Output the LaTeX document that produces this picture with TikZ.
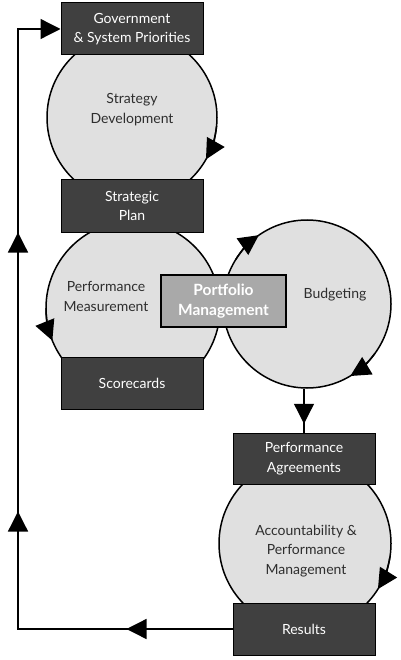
\documentclass[tikz,border=0pt]{standalone}
\usepackage{fontspec}
\setmainfont{Lato}
\usetikzlibrary{arrows.meta,decorations.markings}
\definecolor{boxgray}{HTML}{404040}
\definecolor{circgray}{HTML}{E0E0E0}
\definecolor{portgray}{HTML}{A9A9A9}
\definecolor{txtgray}{HTML}{2E2E2E}
\newcommand\mydiagfont{\fontsize{14}{19.5}\selectfont}
\newcommand\myportfont{\fontsize{15.5}{19.5}\selectfont\bfseries}
\tikzset{mytri/.tip={Triangle[length=20pt,width=20pt]}}
\begin{document}
\begin{tikzpicture}[x=1pt,y=1pt,
  darkbox/.style={draw=black,line width=1pt,fill=boxgray,text=white,minimum width=142pt,minimum height=52pt,inner sep=0pt,align=center,font=\mydiagfont},
  portbox/.style={draw=black,line width=1.3pt,fill=portgray,text=white,minimum width=125pt,minimum height=52pt,inner sep=0pt,align=center,font=\myportfont},
  circ/.style={circle,draw=black,line width=1.5pt,fill=circgray,inner sep=0pt,minimum size=#1},
  ctext/.style={text=txtgray,align=center,font=\mydiagfont,inner sep=0pt},
  circarrow/.style={line width=1.5pt,-mytri},
  conn/.style={line width=1.3pt}
]
\useasboundingbox (0,0) rectangle (400,-660);
\fill[white] (0,0) rectangle (400,-660);

% circles
\node[circ=170pt] (sd) at (132,-117.5) {};
\node[circ=174pt] (pm) at (133,-308) {};
\node[circ=168pt] (bud) at (307,-304) {};
\node[circ=172pt] (apm) at (305,-543.5) {};

% circle direction arrows
\draw[circarrow] ([shift={(-6:85pt)}]sd.center) arc[start angle=-6,end angle=-29.5,radius=85pt];
\draw[circarrow] ([shift={(180:87pt)}]pm.center) arc[start angle=180,end angle=202,radius=87pt];
\draw[circarrow] ([shift={(148:84pt)}]bud.center) arc[start angle=148,end angle=125,radius=84pt];
\draw[circarrow] ([shift={(-36:84pt)}]bud.center) arc[start angle=-36,end angle=-59,radius=84pt];
\draw[circarrow] ([shift={(-9:86pt)}]apm.center) arc[start angle=-9,end angle=-32,radius=86pt];

% boxes
\node[darkbox] (gov) at (132,-29) {Government\\\& System Priorities};
\node[darkbox] (sp) at (132,-206) {Strategic\\Plan};
\node[darkbox] (sc) at (132,-383.5) {Scorecards};
\node[darkbox,minimum height=51pt] (pa) at (304,-458.5) {Performance\\Agreements};
\node[darkbox] (res) at (304,-629) {Results};
\node[portbox] (port) at (223.5,-301) {Portfolio\\Management};

% circle texts
\node[ctext] (sdt) at (132,-109.5) {Strategy\\Development};
\node[ctext] (pmt) at (106,-296.5) {Performance\\Measurement};
\node[ctext] (budt) at (335,-295) {Budgeting};
\node[ctext] (apmt) at (306,-551) {Accountability \&\\Performance\\Management};

% connectors
\coordinate (c1) at (18,-629);
\coordinate (c2) at (18,-29);
\draw[conn,-mytri,postaction={decorate},
  decoration={markings,
    mark=at position 106pt with {\arrow{mytri}},
    mark=at position 332pt with {\arrow{mytri}},
    mark=at position 611pt with {\arrow{mytri}}}]
  (res.west) -- (c1) -- (c2) -- (gov.west);
\draw[conn,postaction={decorate},
  decoration={markings,mark=at position 35pt with {\arrow{mytri}}}]
  (pa.north |- bud.south) -- (pa.north);
\end{tikzpicture}
\end{document}
